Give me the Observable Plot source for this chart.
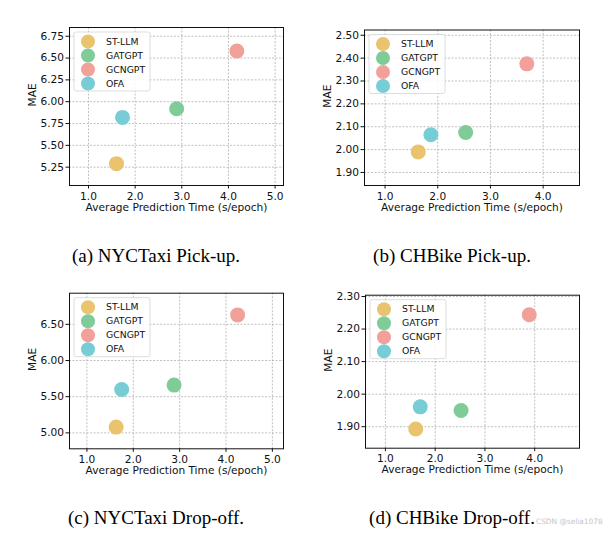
<!DOCTYPE html>
<html>
<head>
<meta charset="utf-8">
<script src="https://cdn.jsdelivr.net/npm/d3@7"></script>
<script src="https://cdn.jsdelivr.net/npm/@observablehq/plot@0.6"></script>
<style>
  html, body { margin: 0; padding: 0; background: #fff; }
  #page { position: relative; width: 606px; height: 534px; overflow: hidden; background: #fff; }
  .panel { position: absolute; }
  .cap { position: absolute; font-family: "Liberation Serif", "Times New Roman", serif; font-size: 19px; line-height: 1; color: #000; white-space: nowrap; transform: translateX(-50%); }
  .wm { position: absolute; font-family: "DejaVu Sans", sans-serif; font-size: 7.4px; line-height: 1; color: #c4c4c4; white-space: nowrap; }
</style>
</head>
<body>
<div id="page"></div>
<script>
// ---- data ----
const series = ["ST-LLM", "GATGPT", "GCNGPT", "OFA"];
const seriesColors = ["#EAC36F", "#80CC99", "#F1A09A", "#77CDD6"];

const taxiPickTime = [1.60, 2.89, 4.18, 1.73];
const taxiPickMAE  = [5.29, 5.92, 6.58, 5.82];
const bikePickTime = [1.63, 2.53, 3.69, 1.87];
const bikePickMAE  = [1.990, 2.075, 2.375, 2.065];
const taxiDropTime = [1.63, 2.88, 4.25, 1.75];
const taxiDropMAE  = [5.08, 5.66, 6.63, 5.60];
const bikeDropTime = [1.61, 2.52, 3.89, 1.70];
const bikeDropMAE  = [1.893, 1.950, 2.244, 1.961];

const xTicks5 = [1.0, 2.0, 3.0, 4.0, 5.0];
const xTicks4 = [1.0, 2.0, 3.0, 4.0];
const yTicksTaxiPick = [5.25, 5.50, 5.75, 6.00, 6.25, 6.50, 6.75];
const yTicksBikePick = [1.90, 2.00, 2.10, 2.20, 2.30, 2.40, 2.50];
const yTicksTaxiDrop = [5.00, 5.50, 6.00, 6.50];
const yTicksBikeDrop = [1.90, 2.00, 2.10, 2.20, 2.30];

const xLabel = "Average Prediction Time (s/epoch)";
const yLabel = "MAE";
const captions = ["(a) NYCTaxi Pick-up.", "(b) CHBike Pick-up.", "(c) NYCTaxi Drop-off.", "(d) CHBike Drop-off."];
const watermark = "CSDN @selia1078";

// ---- panel layout ----
const panels = [
  {time: taxiPickTime, mae: taxiPickMAE, xt: xTicks5, yt: yTicksTaxiPick, xd: [0.593, 5.18], yd: [5.04, 6.85],
   left: 0, top: 0, width: 300, height: 222, ml: 69, mr: 17, mt: 27, mb: 37},
  {time: bikePickTime, mae: bikePickMAE, xt: xTicks4, yt: yTicksBikePick, xd: [0.61, 4.69], yd: [1.843, 2.523],
   left: 300, top: 0, width: 306, height: 222, ml: 64, mr: 27, mt: 29.5, mb: 37},
  {time: taxiDropTime, mae: taxiDropMAE, xt: xTicks5, yt: yTicksTaxiDrop, xd: [0.624, 5.24], yd: [4.78, 6.93],
   left: 0, top: 270, width: 300, height: 222, ml: 69, mr: 17, mt: 22.7, mb: 43.7},
  {time: bikeDropTime, mae: bikeDropMAE, xt: xTicks4, yt: yTicksBikeDrop, xd: [0.60, 4.90], yd: [1.834, 2.304],
   left: 300, top: 270, width: 306, height: 222, ml: 65, mr: 27, mt: 24.7, mb: 44.3}
];

const page = document.getElementById("page");
const FS = 10.6;

panels.forEach((p, k) => {
  const data = series.map((s, i) => ({name: s, t: p.time[i], mae: p.mae[i], color: seriesColors[i]}));
  const svg = Plot.plot({
    width: p.width, height: p.height,
    marginLeft: p.ml, marginRight: p.mr, marginTop: p.mt, marginBottom: p.mb,
    style: {fontFamily: "DejaVu Sans", fontSize: FS + "px", color: "#111", background: "transparent", overflow: "visible"},
    x: {domain: p.xd},
    y: {domain: p.yd},
    marks: [
      Plot.gridX(p.xt, {stroke: "#b0b0b0", strokeOpacity: 1, strokeWidth: 0.8, strokeDasharray: "2,1.5"}),
      Plot.gridY(p.yt, {stroke: "#b0b0b0", strokeOpacity: 1, strokeWidth: 0.8, strokeDasharray: "2,1.5"}),
      Plot.axisX(p.xt, {tickFormat: d => d.toFixed(1), tickSize: 3.5, tickPadding: 3.2, label: null, fontSize: FS}),
      Plot.axisY(p.yt, {tickFormat: d => d.toFixed(2), tickSize: 3.5, tickPadding: 2, label: null, fontSize: FS}),
      Plot.dot(data, {x: "t", y: "mae", fill: "color", r: 7.5, stroke: "none"}),
      Plot.frame({stroke: "#111", strokeWidth: 1}),
      Plot.text([xLabel], {frameAnchor: "bottom", dy: 25, text: d => d, fontSize: FS, fill: "#111"}),
      Plot.text([yLabel], {frameAnchor: "left", dx: -37, rotate: -90, text: d => d, fontSize: FS, fill: "#111"})
    ]
  });

  // legend inside the frame (upper left)
  const g = d3.select(svg).append("g")
    .attr("transform", `translate(${p.ml},${p.mt})`)
    .style("text-anchor", "start")
    .style("font-size", "9.3px");
  g.append("rect")
    .attr("x", 5).attr("y", 5).attr("width", 76).attr("height", 59)
    .attr("rx", 2).attr("ry", 2)
    .attr("fill", "white").attr("fill-opacity", 0.85)
    .attr("stroke", "#d4d4d4").attr("stroke-width", 0.8);
  series.forEach((s, i) => {
    const yy = 14.5 + 14 * i;
    g.append("circle").attr("cx", 19).attr("cy", yy).attr("r", 7).attr("fill", seriesColors[i]);
    g.append("text").attr("x", 37).attr("y", yy).attr("dy", "0.35em")
      .style("text-anchor", "start").style("font-size", "9.3px").style("font-family", "DejaVu Sans")
      .attr("fill", "#111").text(s);
  });

  const wrap = document.createElement("div");
  wrap.className = "panel";
  wrap.style.left = p.left + "px";
  wrap.style.top = p.top + "px";
  wrap.appendChild(svg);
  page.appendChild(wrap);
});

// captions
const capPos = [[156, 246], [452, 246], [156, 507.5], [452, 507.5]];
captions.forEach((c, i) => {
  const d = document.createElement("div");
  d.className = "cap";
  d.style.left = capPos[i][0] + "px";
  d.style.top = capPos[i][1] + "px";
  d.textContent = c;
  page.appendChild(d);
});
const wm = document.createElement("div");
wm.className = "wm";
wm.style.left = "536px";
wm.style.top = "518px";
wm.textContent = watermark;
page.appendChild(wm);
</script>
</body>
</html>
